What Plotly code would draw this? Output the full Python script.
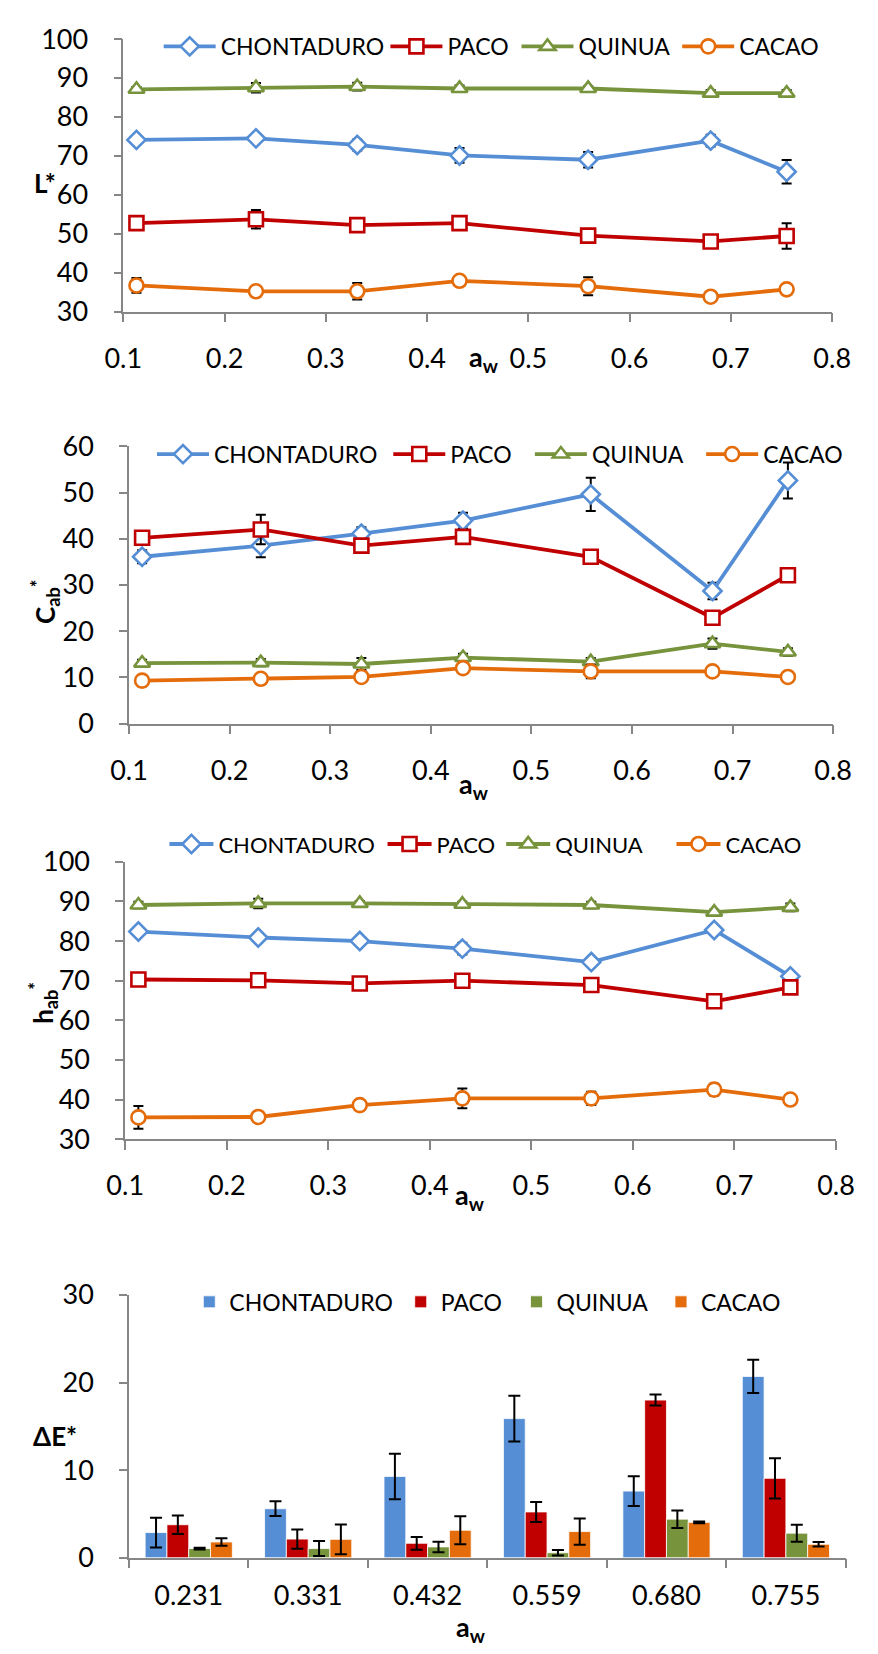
import plotly.graph_objects as go

W, H = 878, 1654
FONT = "Lato"

aw = [0.113, 0.231, 0.331, 0.432, 0.559, 0.680, 0.755]
series = ["CHONTADURO", "PACO", "QUINUA", "CACAO"]
colors = ["#558ED5", "#C00000", "#77933C", "#E46C0A"]
symbols = ["diamond", "square", "triangle-up", "circle"]

L_CH = [74.1, 74.5, 72.8, 70.1, 69.0, 73.9, 65.9]
L_PA = [52.7, 53.7, 52.2, 52.7, 49.5, 48.0, 49.4]
L_QU = [87.1, 87.5, 87.8, 87.3, 87.3, 86.1, 86.1]
L_CA = [36.7, 35.2, 35.2, 37.9, 36.5, 33.8, 35.7]
L_CH_err = [0.8, 0.6, 1.4, 1.9, 2.0, 1.5, 3.0]
L_PA_err = [1.2, 2.4, 1.2, 1.0, 0.8, 1.0, 3.3]
L_QU_err = [0.6, 1.2, 1.0, 0.8, 0.6, 0.8, 0.8]
L_CA_err = [1.9, 0.8, 2.1, 1.2, 2.3, 0.8, 0.8]

C_CH = [36.1, 38.5, 41.1, 43.9, 49.6, 28.7, 52.6]
C_PA = [40.2, 42.0, 38.5, 40.4, 36.1, 22.9, 32.1]
C_QU = [13.1, 13.2, 12.9, 14.3, 13.4, 17.3, 15.5]
C_CA = [9.3, 9.7, 10.1, 12.0, 11.3, 11.3, 10.1]
C_CH_err = [1.4, 2.5, 1.4, 1.7, 3.6, 1.8, 3.9]
C_PA_err = [1.0, 3.2, 1.0, 1.3, 1.1, 1.0, 1.2]
C_QU_err = [0.7, 0.8, 1.3, 0.8, 0.8, 1.1, 0.8]
C_CA_err = [1.2, 1.0, 0.8, 0.8, 1.5, 0.8, 0.8]

h_CH = [82.4, 80.9, 80.0, 78.1, 74.7, 82.8, 71.1]
h_PA = [70.3, 70.1, 69.3, 70.0, 68.9, 64.8, 68.3]
h_QU = [89.1, 89.5, 89.5, 89.3, 89.1, 87.3, 88.5]
h_CA = [35.5, 35.6, 38.6, 40.3, 40.3, 42.5, 40.0]
h_CH_err = [0.8, 0.6, 0.8, 1.5, 0.6, 1.0, 0.6]
h_PA_err = [1.0, 0.8, 1.0, 0.8, 1.2, 1.2, 1.2]
h_QU_err = [0.8, 1.2, 0.6, 0.6, 0.8, 0.6, 1.0]
h_CA_err = [2.9, 1.0, 1.0, 2.5, 1.7, 1.5, 0.6]

dE_cats = ["0.231", "0.331", "0.432", "0.559", "0.680", "0.755"]
dE_CH = [2.87, 5.59, 9.28, 15.88, 7.6, 20.7]
dE_PA = [3.76, 2.12, 1.64, 5.22, 18.0, 9.06]
dE_QU = [1.04, 1.04, 1.23, 0.56, 4.4, 2.8]
dE_CA = [1.79, 2.09, 3.13, 2.98, 4.03, 1.53]
dE_CH_err = [1.7, 0.84, 2.6, 2.6, 1.7, 1.9]
dE_PA_err = [1.06, 1.1, 0.73, 1.14, 0.63, 2.3]
dE_QU_err = [0.1, 0.86, 0.6, 0.3, 1.0, 0.97]
dE_CA_err = [0.43, 1.7, 1.6, 1.5, 0.1, 0.25]

L_vals = [L_CH, L_PA, L_QU, L_CA]
L_errs = [L_CH_err, L_PA_err, L_QU_err, L_CA_err]
C_vals = [C_CH, C_PA, C_QU, C_CA]
C_errs = [C_CH_err, C_PA_err, C_QU_err, C_CA_err]
h_vals = [h_CH, h_PA, h_QU, h_CA]
h_errs = [h_CH_err, h_PA_err, h_QU_err, h_CA_err]
dE_vals = [dE_CH, dE_PA, dE_QU, dE_CA]
dE_errs = [dE_CH_err, dE_PA_err, dE_QU_err, dE_CA_err]

# legend text start positions (px) per panel, legend row centre (px), item widths, font sizes
leg_text_x = [
    [208, 445, 582, 750],
    [201, 448, 596, 775],
    [206, 434, 558, 736],
    [215, 436, 557, 708],
]
leg_row_y = [29, 445, 843, 1310]
leg_item_w = [52, 52, 44, 30]
leg_font_size = [23, 23, 22, 23]


def fx(px):
    return px / W


def fy(px):
    return 1 - px / H


def legkey(n):
    return "legend" if n == 1 else "legend" + str(n)


fig = go.Figure()

line_panels = [
    (L_vals, L_errs, "x", "y"),
    (C_vals, C_errs, "x2", "y2"),
    (h_vals, h_errs, "x3", "y3"),
]
n = 0
for vals, errs, xa, ya in line_panels:
    for name, c, sym, v, e in zip(series, colors, symbols, vals, errs):
        n += 1
        fig.add_trace(go.Scatter(
            x=aw, y=v, name=name, mode="lines+markers",
            xaxis=xa, yaxis=ya, legend=legkey(n), showlegend=True,
            line=dict(color=c, width=3.8),
            marker=dict(symbol=sym, size=14, color="white", line=dict(color=c, width=2.6)),
            error_y=dict(type="data", array=e, visible=True, color="black", thickness=2, width=5),
        ))

for name, c, v, e in zip(series, colors, dE_vals, dE_errs):
    n += 1
    fig.add_trace(go.Bar(
        x=dE_cats, y=v, name=name, xaxis="x4", yaxis="y4", legend=legkey(n), showlegend=True,
        marker=dict(color=c, line=dict(color="white", width=0.8)),
        error_y=dict(type="data", array=e, visible=True, color="black", thickness=2, width=6),
    ))

tickfont = dict(family=FONT, size=27, color="black")
axcol = "#868686"

xdoms = [(109, 850), (115, 851), (111, 854), (115, 864)]
ydoms = [(21.5, 299.5), (437, 720), (861, 1144), (1303, 1571)]
yranges = [[30, 100], [0, 60], [30, 100], [0, 30]]

layout = dict(
    width=W, height=H, margin=dict(l=0, r=0, t=0, b=0),
    paper_bgcolor="white", plot_bgcolor="white",
    font=dict(family=FONT, color="black"),
    barmode="group", bargap=0.27, bargroupgap=0.0,
    showlegend=True,
)
for i in range(4):
    s = "" if i == 0 else str(i + 1)
    xd = xdoms[i]
    yd = ydoms[i]
    xa = dict(domain=[fx(xd[0]), fx(xd[1])], anchor="y" + s,
              showline=True, linecolor=axcol, linewidth=1.5,
              ticks="outside", ticklen=9, tickwidth=1.5, tickcolor=axcol,
              showgrid=False, zeroline=False, tickfont=tickfont,
              ticklabelstandoff=13)
    if i < 3:
        xa.update(range=[0.1, 0.8], dtick=0.1, tick0=0.1, tickformat=".1f")
    else:
        xa.update(type="category", tickson="boundaries")
    ya = dict(domain=[fy(yd[1]), fy(yd[0])], anchor="x" + s, range=yranges[i],
              dtick=10, showline=True, linecolor=axcol, linewidth=1.5,
              ticks="outside", ticklen=8, tickwidth=1.5, tickcolor=axcol,
              showgrid=False, zeroline=False, tickfont=tickfont,
              ticklabelstandoff=20)
    layout["xaxis" + s] = xa
    layout["yaxis" + s] = ya

n = 0
for p in range(4):
    iw = leg_item_w[p]
    for k in range(4):
        n += 1
        if p < 3:
            lx = leg_text_x[p][k] - (iw + 10)
        else:
            lx = leg_text_x[p][k] - 37
        layout[legkey(n)] = dict(orientation="h", x=fx(lx), y=fy(leg_row_y[p]),
                                 xanchor="left", yanchor="middle", visible=True,
                                 font=dict(family=FONT, size=leg_font_size[p], color="black"),
                                 bgcolor="rgba(0,0,0,0)",
                                 itemwidth=iw, borderwidth=0)

fig.update_layout(**layout)

ann = []
tfont = dict(family=FONT, size=26, color="black")
ann.append(dict(text="<b>L*</b>", x=fx(27), y=fy(168), textangle=0, font=tfont))
ann.append(dict(text="<b>C<sub>ab</sub><sup>*</sup></b>", x=fx(27), y=fy(595), textangle=-90, font=tfont))
ann.append(dict(text="<b>h<sub>ab</sub><sup>*</sup></b>", x=fx(25), y=fy(1005), textangle=-90, font=tfont))
ann.append(dict(text="<b>ΔE*</b>", x=fx(38), y=fy(1447), textangle=0, font=tfont))
awfont = dict(family=FONT, size=27, color="black")
for (ax, ay) in [(486, 347), (475, 783), (471, 1203), (472, 1643)]:
    ann.append(dict(text="<b>a<sub>w</sub></b>", x=fx(ax), y=fy(ay), font=awfont))
for a in ann:
    a.update(xref="paper", yref="paper", showarrow=False, xanchor="center", yanchor="middle")
fig.update_layout(annotations=ann)

fig.write_html("out.html")
